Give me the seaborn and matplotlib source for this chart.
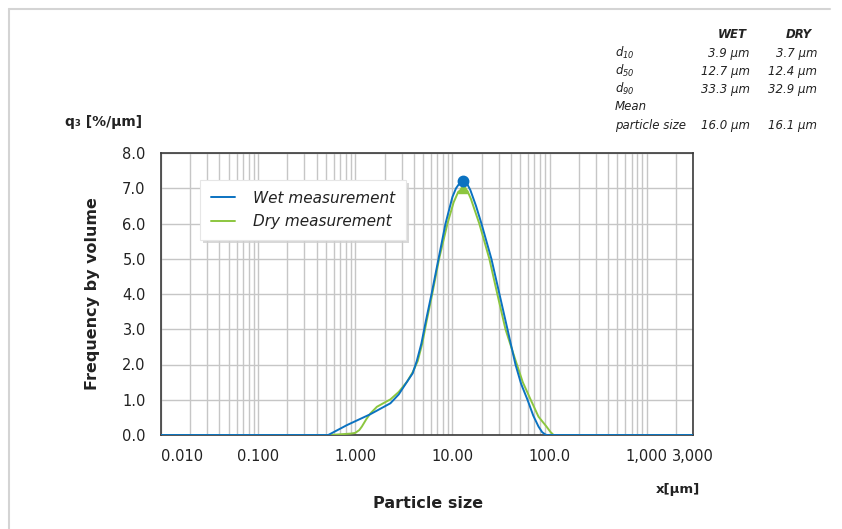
import numpy as np
import pandas as pd
import seaborn as sns
import matplotlib.pyplot as plt
from matplotlib.lines import Line2D
from matplotlib.ticker import LogLocator, NullFormatter, FixedLocator, FixedFormatter

# particle size distribution q3 (%/um)
wet_x = [0.01, 0.527, 0.82, 1.43, 2.30, 2.8, 3.41, 3.9, 4.3, 4.8, 5.3, 6.1,
         7.2, 8.5, 10.0, 10.9, 11.9, 13.0, 14.2, 15.3, 17.5, 19.9, 25.2, 30.5,
         36.9, 44.6, 51.0, 59.3, 68.0, 77.0, 84.0, 91.0, 95.0, 3000]
wet_q = [0.0, 0.0, 0.28, 0.59, 0.90, 1.15, 1.51, 1.75, 2.1, 2.6, 3.2, 4.0,
         5.0, 6.0, 6.75, 7.0, 7.15, 7.2, 7.12, 6.95, 6.5, 6.0, 5.0, 4.0,
         3.0, 2.0, 1.45, 1.0, 0.55, 0.24, 0.08, 0.01, 0.0, 0.0]

dry_x = [0.01, 0.55, 0.9, 1.0, 1.1, 1.17, 1.3, 1.43, 1.67, 2.0, 2.30, 2.8,
         3.41, 3.9, 4.4, 4.9, 5.4, 6.2, 7.3, 8.9, 10.3, 11.5, 13.0, 14.3,
         15.5, 18.9, 24.0, 29.0, 35.2, 44.5, 53.0, 64.0, 77.0, 93.0, 102.0,
         110.0, 3000]
dry_q = [0.0, 0.0, 0.04, 0.06, 0.14, 0.24, 0.45, 0.61, 0.80, 0.92, 1.01, 1.22,
         1.51, 1.78, 2.1, 2.6, 3.2, 4.0, 5.0, 6.0, 6.6, 6.9, 7.0, 6.92,
         6.7, 6.0, 5.0, 4.0, 3.0, 2.13, 1.5, 1.0, 0.52, 0.24, 0.09,
         0.0, 0.0]

x_ticks = [0.01, 0.1, 1, 10, 100, 1000, 3000]
x_ticklabels = ['0.010', '0.100', '1.000', '10.00', '100.0', '1,000', '3,000']
y_ticks = [0, 1, 2, 3, 4, 5, 6, 7, 8]

# summary table
stat_names = [r'$\mathregular{d_{10}}$', r'$\mathregular{d_{50}}$', r'$\mathregular{d_{90}}$',
              'Mean', 'particle size']
wet_stats = ['3.9 µm', '12.7 µm', '33.3 µm', '', '16.0 µm']
dry_stats = ['3.7 µm', '12.4 µm', '32.9 µm', '', '16.1 µm']

WET_COLOR = '#0b72c1'
DRY_COLOR = '#8cc63f'
TEXT = '#222222'

sns.set_style('white')
plt.rcParams['font.family'] = ['DejaVu Sans']

W, H = 842, 529
fig = plt.figure(figsize=(W / 100, H / 100), dpi=100)
ax = fig.add_axes([161 / W, 1 - 435 / H, 532 / W, 282 / H])

wet = pd.DataFrame({'x': wet_x, 'q': wet_q})
dry = pd.DataFrame({'x': dry_x, 'q': dry_q})

sns.lineplot(data=wet, x='x', y='q', ax=ax, color=WET_COLOR, lw=1.4, sort=False,
             label='Wet measurement', zorder=4)
sns.lineplot(data=dry, x='x', y='q', ax=ax, color=DRY_COLOR, lw=1.4, sort=False,
             label='Dry measurement', zorder=3)

# peak markers
iw = int(np.argmax(wet_q))
idr = int(np.argmax(dry_q))
ax.plot(wet_x[iw], wet_q[iw], 'o', color=WET_COLOR, ms=7.5, zorder=6, clip_on=False)
ax.plot(dry_x[idr], dry_q[idr], '^', color=DRY_COLOR, ms=6.5, zorder=5, clip_on=False)

ax.set_xscale('log')
ax.set_xlim(0.01, 3000)
ax.set_ylim(0, 8)
ax.xaxis.set_major_locator(FixedLocator(x_ticks))
ax.xaxis.set_major_formatter(FixedFormatter(x_ticklabels))
ax.xaxis.set_minor_locator(LogLocator(base=10, subs=range(2, 10), numticks=20))
ax.xaxis.set_minor_formatter(NullFormatter())
ax.set_yticks(y_ticks)
ax.set_yticklabels([f'{v:.1f}' for v in y_ticks])

ax.grid(True, which='both', axis='x', color='#c6c6c6', lw=1.0, zorder=0)
ax.grid(True, which='major', axis='y', color='#c6c6c6', lw=1.0, zorder=0)
ax.set_axisbelow(True)
ax.tick_params(axis='both', which='both', length=0, labelsize=10.5, labelcolor=TEXT)
ax.tick_params(axis='x', pad=10)
ax.tick_params(axis='y', pad=11)
ax.get_xticklabels()[0].set_ha('left')
for s in ax.spines.values():
    s.set_color('#3a3a3a')
    s.set_linewidth(1.2)
ax.set_xlabel('')
ax.set_ylabel('')

leg = ax.legend(loc='upper left', bbox_to_anchor=(0.073, 0.904), borderaxespad=0,
                frameon=True, shadow={'facecolor': '#cfcfcf', 'edgecolor': 'none', 'alpha': 0.8},
                fancybox=False,
                prop={'style': 'italic', 'size': 11}, handlelength=1.6,
                handletextpad=1.2, labelspacing=0.55, borderpad=0.7)
leg.get_frame().set_edgecolor('#e6e6e6')
leg.get_frame().set_linewidth(0.8)
for t in leg.get_texts():
    t.set_color(TEXT)

# axis titles
fig.text(93 / W, 1 - 294 / H, 'Frequency by volume', rotation=90, ha='center',
         va='center', fontsize=11.5, fontweight='bold', color=TEXT)
fig.text(428 / W, 1 - 503 / H, 'Particle size', ha='center', va='center',
         fontsize=11.5, fontweight='bold', color=TEXT)
fig.text(104 / W, 1 - 122 / H, 'q₃ [%/µm]', ha='center', va='center',
         fontsize=10, fontweight='bold', color=TEXT)
fig.text(700 / W, 1 - 489 / H, 'x[µm]', ha='right', va='center',
         fontsize=9.5, fontweight='bold', color=TEXT)

# statistics table
fig.text(747 / W, 1 - 35 / H, 'WET', ha='right', va='center', fontsize=8.5,
         fontweight='bold', style='italic', color=TEXT)
fig.text(812 / W, 1 - 35 / H, 'DRY', ha='right', va='center', fontsize=8.5,
         fontweight='bold', style='italic', color=TEXT)
row_y = [53, 71, 89, 107, 125]
for name, w, d, y in zip(stat_names, wet_stats, dry_stats, row_y):
    fig.text(615 / W, 1 - y / H, name, ha='left', va='center', fontsize=8.5,
             style='italic', color=TEXT)
    fig.text(750 / W, 1 - y / H, w, ha='right', va='center', fontsize=8.5,
             style='italic', color=TEXT)
    fig.text(817 / W, 1 - y / H, d, ha='right', va='center', fontsize=8.5,
             style='italic', color=TEXT)

# light frame on the top and left edges
fig.add_artist(Line2D([9 / W, 830 / W], [1 - 9 / H, 1 - 9 / H], color='#d4d4d4', lw=1.5))
fig.add_artist(Line2D([9 / W, 9 / W], [1 - 9 / H, 0], color='#d4d4d4', lw=1.5))

fig.savefig('out.png', dpi=100)
